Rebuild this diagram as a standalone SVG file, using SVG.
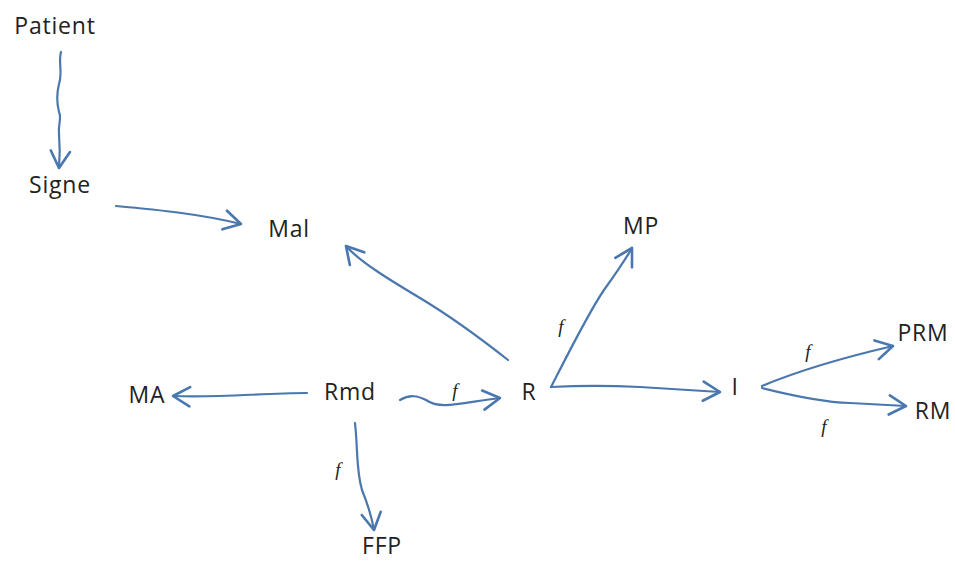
<svg xmlns="http://www.w3.org/2000/svg" width="955" height="563" viewBox="0 0 955 563">
<style>
.lbl{font-family:"Open Sans","Liberation Sans",sans-serif;font-size:23px;letter-spacing:0.8px;fill:#222}
.f{font-family:"Liberation Serif",serif;font-style:italic;font-size:19px;fill:#222}
.c{fill:none;stroke:#4a78ae;stroke-width:2.2;stroke-linecap:round;stroke-linejoin:round}
</style>
<defs>
<marker id="ah" markerUnits="userSpaceOnUse" markerWidth="24" markerHeight="24" viewBox="-16 -10 20 20" refX="0" refY="0" orient="auto">
<path d="M-14,-8 L0,0 L-14,8" fill="none" stroke="#4a78ae" stroke-width="2.2" stroke-linecap="round" stroke-linejoin="round"/>
</marker>
</defs>
<rect width="955" height="563" fill="#fff"/>
<g id="connectors">
<path class="c" marker-end="url(#ah)" d="M61,52 C58,62 63,72 59,84 C56,96 57,104 59,112 C62,118 58,124 59,134 C60,146 60,156 59,168"/>
<path class="c" marker-end="url(#ah)" d="M116,206 C160,210 200,214 241,224"/>
<path class="c" marker-end="url(#ah)" d="M508,360 C470,330 440,310 420,298 C390,280 360,262 346,246"/>
<path class="c" marker-end="url(#ah)" d="M551,387 C570,350 590,310 604,290 C614,276 624,262 632,248"/>
<path class="c" marker-end="url(#ah)" d="M551,387 C570,386 600,385 640,387 C670,389 700,391 720,392"/>
<path class="c" marker-end="url(#ah)" d="M762,386 C800,370 850,356 893,346"/>
<path class="c" marker-end="url(#ah)" d="M762,388 C790,395 820,402 850,403 C870,404 890,405 906,406"/>
<path class="c" marker-end="url(#ah)" d="M307,393 C260,393 220,398 173,396"/>
<path class="c" marker-end="url(#ah)" d="M400,400 C410,394 418,396 426,400 C440,410 460,403 500,398"/>
<path class="c" marker-end="url(#ah)" d="M355,423 C358,450 356,470 362,490 C368,505 372,518 374,530"/>
</g>
<g id="Patient"><text class="lbl" x="55" y="34" text-anchor="middle">Patient</text></g>
<g id="Signe"><text class="lbl" x="60" y="193" text-anchor="middle">Signe</text></g>
<g id="Mal"><text class="lbl" x="289" y="237" text-anchor="middle">Mal</text></g>
<g id="MP"><text class="lbl" x="641" y="234" text-anchor="middle">MP</text></g>
<g id="PRM"><text class="lbl" x="923" y="341" text-anchor="middle">PRM</text></g>
<g id="RM"><text class="lbl" x="933" y="419" text-anchor="middle">RM</text></g>
<g id="I"><text class="lbl" x="735" y="395" text-anchor="middle">I</text></g>
<g id="R"><text class="lbl" x="529" y="400" text-anchor="middle">R</text></g>
<g id="Rmd"><text class="lbl" x="350" y="400" text-anchor="middle">Rmd</text></g>
<g id="MA"><text class="lbl" x="147" y="403" text-anchor="middle">MA</text></g>
<g id="FFP"><text class="lbl" x="382" y="554" text-anchor="middle">FFP</text></g>
<g id="labels">
<text class="f" x="455" y="397" text-anchor="middle">f</text>
<text class="f" x="561" y="333" text-anchor="middle">f</text>
<text class="f" x="808" y="358" text-anchor="middle">f</text>
<text class="f" x="824" y="433" text-anchor="middle">f</text>
<text class="f" x="338" y="476" text-anchor="middle">f</text>
</g>
</svg>
